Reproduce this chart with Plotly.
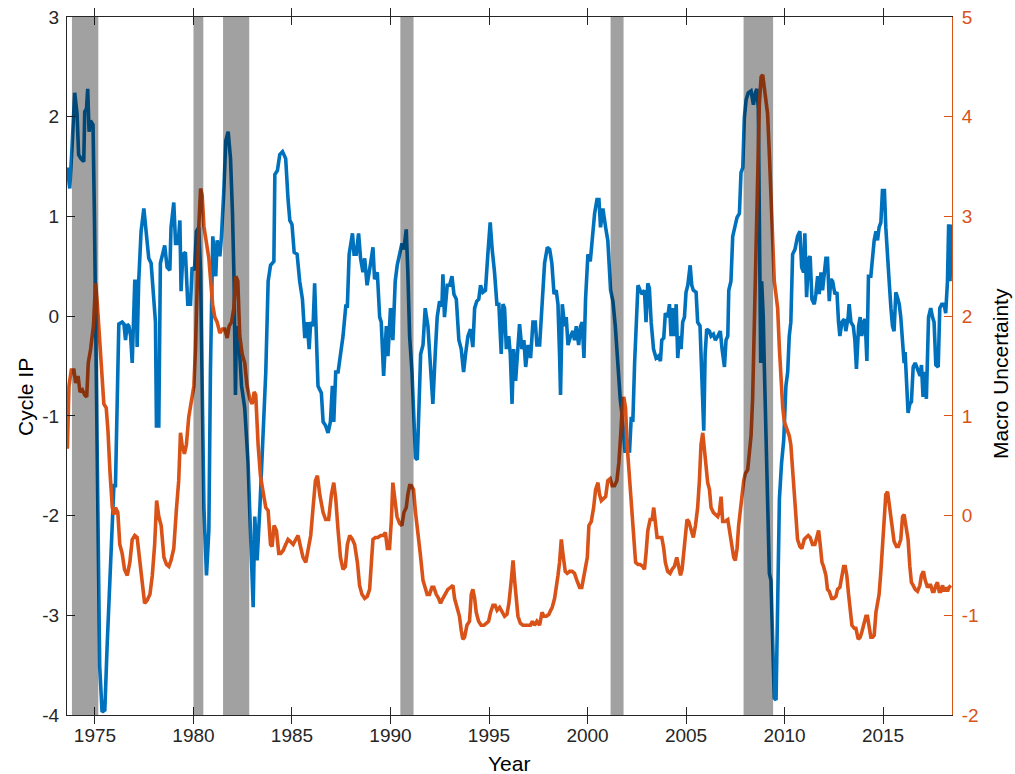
import plotly.graph_objects as go

# Cycle IP (left axis)
ip_year = [1973.60, 1973.72, 1973.84, 1973.97, 1974.09, 1974.17, 1974.29, 1974.43, 1974.48, 1974.57,
           1974.63, 1974.70, 1974.77, 1974.90, 1974.97, 1975.06, 1975.14, 1975.24, 1975.36, 1975.50,
           1975.62, 1975.79, 1975.96, 1976.04, 1976.13, 1976.21, 1976.38, 1976.47, 1976.55, 1976.64,
           1976.72, 1976.81, 1976.89, 1976.97, 1977.02, 1977.09, 1977.14, 1977.22, 1977.34, 1977.48,
           1977.60, 1977.73, 1977.85, 1977.99, 1978.07, 1978.12, 1978.24, 1978.32, 1978.44, 1978.54,
           1978.66, 1978.80, 1978.86, 1979.00, 1979.09, 1979.22, 1979.31, 1979.37, 1979.46, 1979.59,
           1979.71, 1979.85, 1979.93, 1980.05, 1980.15, 1980.27, 1980.36, 1980.44, 1980.53, 1980.66,
           1980.78, 1980.86, 1980.98, 1981.13, 1981.20, 1981.34, 1981.42, 1981.54, 1981.64, 1981.76,
           1981.88, 1981.98, 1982.06, 1982.13, 1982.18, 1982.32, 1982.44, 1982.60, 1982.77, 1982.89,
           1983.03, 1983.11, 1983.23, 1983.37, 1983.53, 1983.67, 1983.79, 1983.91, 1984.08, 1984.13,
           1984.26, 1984.38, 1984.52, 1984.68, 1984.80, 1984.89, 1985.00, 1985.11, 1985.26, 1985.39,
           1985.53, 1985.65, 1985.77, 1985.87, 1985.95, 1986.07, 1986.15, 1986.24, 1986.32, 1986.49,
           1986.58, 1986.71, 1986.83, 1986.95, 1987.05, 1987.12, 1987.22, 1987.34, 1987.46, 1987.59,
           1987.73, 1987.81, 1987.90, 1988.07, 1988.15, 1988.26, 1988.38, 1988.48, 1988.60, 1988.69,
           1988.81, 1988.89, 1988.99, 1989.11, 1989.19, 1989.33, 1989.45, 1989.53, 1989.65, 1989.79,
           1989.87, 1990.00, 1990.12, 1990.24, 1990.34, 1990.46, 1990.58, 1990.68, 1990.80, 1990.88,
           1990.97, 1991.09, 1991.19, 1991.27, 1991.36, 1991.44, 1991.53, 1991.65, 1991.76, 1991.90,
           1992.03, 1992.15, 1992.27, 1992.37, 1992.49, 1992.61, 1992.66, 1992.74, 1992.88, 1993.00,
           1993.12, 1993.22, 1993.34, 1993.47, 1993.59, 1993.71, 1993.81, 1993.93, 1994.06, 1994.18,
           1994.27, 1994.38, 1994.48, 1994.57, 1994.69, 1994.82, 1994.94, 1995.06, 1995.16, 1995.28,
           1995.40, 1995.50, 1995.62, 1995.71, 1995.79, 1995.88, 1996.00, 1996.08, 1996.17, 1996.25,
           1996.35, 1996.47, 1996.55, 1996.67, 1996.77, 1996.86, 1996.98, 1997.11, 1997.23, 1997.35,
           1997.43, 1997.57, 1997.69, 1997.82, 1997.96, 1998.08, 1998.19, 1998.30, 1998.41, 1998.50,
           1998.58, 1998.63, 1998.72, 1998.84, 1998.92, 1999.01, 1999.14, 1999.26, 1999.34, 1999.43,
           1999.55, 1999.65, 1999.73, 1999.82, 1999.90, 2000.02, 2000.14, 2000.24, 2000.36, 2000.48,
           2000.58, 2000.66, 2000.78, 2000.92, 2001.03, 2001.17, 2001.29, 2001.41, 2001.54, 2001.66,
           2001.79, 2001.91, 2002.01, 2002.13, 2002.22, 2002.30, 2002.39, 2002.47, 2002.56, 2002.67,
           2002.77, 2002.89, 2002.97, 2003.06, 2003.14, 2003.23, 2003.35, 2003.48, 2003.60, 2003.70,
           2003.77, 2003.87, 2003.95, 2004.07, 2004.16, 2004.24, 2004.33, 2004.41, 2004.50, 2004.58,
           2004.66, 2004.75, 2004.83, 2004.92, 2005.00, 2005.09, 2005.21, 2005.29, 2005.37, 2005.51,
           2005.59, 2005.71, 2005.81, 2005.90, 2005.97, 2006.05, 2006.19, 2006.27, 2006.39, 2006.49,
           2006.61, 2006.74, 2006.83, 2006.95, 2007.03, 2007.12, 2007.17, 2007.28, 2007.37, 2007.49,
           2007.59, 2007.71, 2007.79, 2007.88, 2007.96, 2008.05, 2008.16, 2008.30, 2008.42, 2008.52,
           2008.60, 2008.67, 2008.74, 2008.79, 2008.84, 2008.92, 2008.97, 2009.06, 2009.14, 2009.23,
           2009.31, 2009.40, 2009.48, 2009.57, 2009.65, 2009.74, 2009.85, 2009.96, 2010.07, 2010.16,
           2010.24, 2010.32, 2010.41, 2010.53, 2010.66, 2010.78, 2010.87, 2010.97, 2011.03, 2011.12,
           2011.22, 2011.30, 2011.39, 2011.51, 2011.59, 2011.68, 2011.76, 2011.85, 2011.93, 2012.01,
           2012.10, 2012.18, 2012.27, 2012.35, 2012.44, 2012.56, 2012.66, 2012.74, 2012.81, 2012.91,
           2013.03, 2013.11, 2013.23, 2013.28, 2013.37, 2013.49, 2013.57, 2013.65, 2013.76, 2013.84,
           2013.92, 2014.01, 2014.09, 2014.18, 2014.26, 2014.38, 2014.47, 2014.55, 2014.64, 2014.72,
           2014.80, 2014.89, 2014.97, 2015.07, 2015.14, 2015.23, 2015.31, 2015.40, 2015.48, 2015.56,
           2015.65, 2015.73, 2015.82, 2015.90, 2015.99, 2016.07, 2016.12, 2016.19, 2016.27, 2016.36,
           2016.44, 2016.53, 2016.63, 2016.71, 2016.80, 2016.88, 2016.95, 2017.03, 2017.12, 2017.20,
           2017.31, 2017.42, 2017.51, 2017.59, 2017.68, 2017.80, 2017.88, 2017.98, 2018.10, 2018.18,
           2018.27, 2018.33, 2018.40, 2018.47]
ip_value = [1.49, 1.28, 1.71, 2.24, 2.03, 1.62, 1.58, 1.55, 2.05, 2.08,
            2.28, 1.85, 1.96, 1.92, 1.03, -0.56, -2.15, -3.51, -3.97, -3.95,
            -3.29, -2.38, -1.70, -1.70, -0.79, -0.08, -0.06, -0.08, -0.24, -0.08,
            -0.10, -0.20, -0.47, -0.01, 0.35, 0.35, -0.31, 0.35, 0.85, 1.08,
            0.80, 0.58, 0.53, 0.17, -0.06, -1.10, -1.10, 0.53, 0.62, 0.71,
            0.49, 0.46, 0.89, 1.14, 0.73, 0.73, 0.96, 0.25, 0.62, 0.64,
            0.12, 0.12, 0.49, 0.46, 0.85, 0.89, 0.44, -0.56, -1.92, -2.60,
            -2.15, -0.56, 0.80, 0.40, 0.76, 0.60, 0.80, 1.26, 1.76, 1.85,
            1.58, 1.03, 0.35, -0.79, -0.10, -0.29, -0.70, -0.92, -1.47, -2.15,
            -2.92, -2.01, -2.45, -1.92, -1.29, -0.56, 0.35, 0.51, 0.55, 1.42,
            1.46, 1.62, 1.65, 1.58, 1.17, 0.96, 0.92, 0.64, 0.62, 0.35,
            0.17, -0.22, -0.06, -0.33, -0.06, -0.10, 0.33, -0.10, -0.70, -0.77,
            -1.06, -1.10, -1.17, -1.06, -0.70, -1.06, -0.56, -0.56, -0.38, -0.20,
            0.10, 0.10, 0.62, 0.83, 0.62, 0.62, 0.83, 0.58, 0.44, 0.58,
            0.31, 0.44, 0.53, 0.69, 0.37, 0.44, -0.01, -0.06, -0.60, -0.10,
            -0.40, 0.08, -0.24, 0.35, 0.51, 0.62, 0.73, 0.67, 0.87, 0.44,
            -0.20, -0.56, -1.01, -1.42, -1.44, -1.01, -0.38, -0.29, 0.08, -0.10,
            -0.47, -0.88, -0.38, -0.01, 0.15, 0.10, 0.42, -0.01, 0.31, 0.31,
            0.40, 0.22, 0.17, -0.24, -0.33, -0.56, -0.38, -0.20, -0.13, -0.31,
            0.08, 0.15, 0.17, 0.31, 0.24, 0.26, 0.62, 0.94, 0.67, 0.44,
            0.12, 0.12, -0.38, 0.12, 0.08, -0.33, -0.20, -0.38, -0.88, -0.33,
            -0.65, -0.29, -0.08, -0.33, -0.24, -0.51, -0.29, -0.42, -0.06, -0.06,
            -0.29, -0.29, 0.17, 0.53, 0.69, 0.67, 0.53, 0.22, 0.26, 0.12,
            -0.38, -0.79, 0.12, -0.10, -0.01, -0.29, -0.20, -0.15, -0.24, -0.10,
            -0.29, -0.10, -0.06, -0.42, 0.17, 0.62, 0.55, 0.76, 1.03, 1.17,
            1.17, 0.89, 1.08, 0.89, 0.76, 0.26, 0.15, -0.10, -0.47, -0.83,
            -1.06, -1.37, -1.24, -1.37, -1.01, -1.06, -0.47, -0.01, 0.31, 0.26,
            0.22, 0.26, -0.06, 0.33, 0.28, -0.06, -0.33, -0.42, -0.40, -0.45,
            -0.24, -0.22, 0.03, -0.01, 0.12, -0.20, 0.08, -0.20, 0.12, -0.42,
            -0.20, -0.33, -0.06, -0.01, 0.24, 0.31, 0.51, 0.31, 0.26, 0.24,
            -0.06, -0.10, -0.56, -1.15, -0.38, -0.13, -0.15, -0.20, -0.18, -0.24,
            -0.20, -0.15, -0.33, -0.51, -0.24, -0.20, 0.26, 0.35, 0.80, 0.89,
            0.99, 1.03, 1.44, 1.49, 1.99, 2.17, 2.24, 2.26, 2.12, 2.24,
            2.28, 2.08, 0.80, -0.47, 0.35, -0.01, -0.47, -1.15, -1.92, -2.58,
            -2.65, -3.29, -3.83, -3.85, -2.83, -1.83, -1.47, -1.24, -0.70, -0.56,
            -0.20, -0.06, 0.62, 0.67, 0.80, 0.85, 0.49, 0.44, 0.83, 0.19,
            0.58, 0.60, 0.17, 0.12, 0.22, 0.40, 0.22, 0.44, 0.26, 0.44,
            0.58, 0.58, 0.15, 0.37, 0.35, 0.22, 0.24, -0.06, -0.20, -0.06,
            -0.03, -0.15, -0.01, 0.12, -0.06, -0.10, -0.24, -0.53, -0.10, -0.01,
            -0.20, -0.06, -0.03, -0.45, 0.40, 0.40, 0.64, 0.76, 0.85, 0.76,
            0.89, 0.94, 1.26, 1.26, 0.89, 0.53, 0.35, 0.08, -0.10, -0.15,
            0.24, 0.19, 0.12, -0.01, -0.33, -0.47, -0.36, -0.70, -0.97, -0.88,
            -0.86, -0.51, -0.47, -0.51, -0.56, -0.60, -0.49, -0.81, -0.56, -0.83,
            -0.01, 0.08, -0.01, -0.06, -0.49, -0.51, 0.08, 0.12, 0.12, 0.03,
            0.35, 0.92, 0.35, 0.92]

# Macro Uncertainty (right axis)
mu_year = [1973.60, 1973.68, 1973.80, 1973.93, 1974.02, 1974.14, 1974.24, 1974.36, 1974.48, 1974.58,
           1974.66, 1974.78, 1974.92, 1975.03, 1975.12, 1975.24, 1975.36, 1975.45, 1975.57, 1975.66,
           1975.76, 1975.88, 1975.96, 1976.04, 1976.16, 1976.26, 1976.38, 1976.50, 1976.64, 1976.77,
           1976.89, 1977.02, 1977.14, 1977.28, 1977.40, 1977.52, 1977.65, 1977.79, 1977.91, 1978.03,
           1978.13, 1978.24, 1978.36, 1978.50, 1978.63, 1978.75, 1978.86, 1979.00, 1979.14, 1979.25,
           1979.34, 1979.42, 1979.54, 1979.64, 1979.76, 1979.88, 1980.02, 1980.10, 1980.19, 1980.27,
           1980.36, 1980.44, 1980.53, 1980.66, 1980.78, 1980.97, 1981.08, 1981.20, 1981.34, 1981.47,
           1981.59, 1981.71, 1981.81, 1981.93, 1982.05, 1982.15, 1982.25, 1982.35, 1982.47, 1982.60,
           1982.72, 1982.86, 1982.98, 1983.08, 1983.16, 1983.28, 1983.40, 1983.53, 1983.67, 1983.79,
           1983.91, 1983.99, 1984.09, 1984.21, 1984.33, 1984.43, 1984.55, 1984.68, 1984.80, 1984.92,
           1985.06, 1985.19, 1985.31, 1985.43, 1985.56, 1985.70, 1985.82, 1985.95, 1986.07, 1986.19,
           1986.29, 1986.41, 1986.58, 1986.71, 1986.86, 1987.00, 1987.12, 1987.22, 1987.34, 1987.46,
           1987.59, 1987.71, 1987.81, 1987.93, 1988.07, 1988.18, 1988.32, 1988.43, 1988.55, 1988.69,
           1988.82, 1988.94, 1989.03, 1989.11, 1989.23, 1989.36, 1989.50, 1989.62, 1989.74, 1989.84,
           1989.95, 1990.04, 1990.12, 1990.21, 1990.33, 1990.46, 1990.58, 1990.68, 1990.80, 1990.88,
           1990.97, 1991.05, 1991.17, 1991.27, 1991.39, 1991.51, 1991.65, 1991.76, 1991.86, 1991.98,
           1992.10, 1992.20, 1992.32, 1992.44, 1992.54, 1992.66, 1992.78, 1992.91, 1993.05, 1993.17,
           1993.25, 1993.39, 1993.50, 1993.59, 1993.67, 1993.76, 1993.88, 1994.01, 1994.10, 1994.18,
           1994.27, 1994.35, 1994.47, 1994.60, 1994.74, 1994.86, 1994.98, 1995.08, 1995.20, 1995.31,
           1995.41, 1995.54, 1995.68, 1995.79, 1995.91, 1996.01, 1996.13, 1996.22, 1996.30, 1996.39,
           1996.47, 1996.59, 1996.72, 1996.86, 1996.98, 1997.10, 1997.20, 1997.31, 1997.43, 1997.57,
           1997.69, 1997.79, 1997.91, 1998.04, 1998.13, 1998.21, 1998.33, 1998.41, 1998.50, 1998.58,
           1998.67, 1998.75, 1998.87, 1998.97, 1999.09, 1999.22, 1999.34, 1999.46, 1999.60, 1999.71,
           1999.82, 1999.90, 1999.99, 2000.07, 2000.19, 2000.31, 2000.41, 2000.53, 2000.61, 2000.70,
           2000.81, 2000.92, 2001.03, 2001.15, 2001.25, 2001.37, 2001.49, 2001.59, 2001.68, 2001.76,
           2001.84, 2001.93, 2002.01, 2002.13, 2002.25, 2002.35, 2002.44, 2002.56, 2002.67, 2002.81,
           2002.89, 2002.97, 2003.06, 2003.18, 2003.28, 2003.36, 2003.45, 2003.53, 2003.65, 2003.77,
           2003.87, 2003.95, 2004.07, 2004.19, 2004.29, 2004.41, 2004.53, 2004.61, 2004.72, 2004.80,
           2004.88, 2004.97, 2005.05, 2005.14, 2005.26, 2005.37, 2005.48, 2005.59, 2005.68, 2005.76,
           2005.85, 2005.93, 2006.02, 2006.10, 2006.19, 2006.27, 2006.39, 2006.49, 2006.61, 2006.69,
           2006.78, 2006.86, 2006.98, 2007.12, 2007.22, 2007.32, 2007.42, 2007.50, 2007.59, 2007.67,
           2007.76, 2007.84, 2007.93, 2008.01, 2008.13, 2008.21, 2008.30, 2008.38, 2008.47, 2008.55,
           2008.64, 2008.72, 2008.81, 2008.89, 2008.98, 2009.06, 2009.14, 2009.23, 2009.31, 2009.40,
           2009.48, 2009.57, 2009.65, 2009.74, 2009.82, 2009.91, 2009.99, 2010.07, 2010.16, 2010.24,
           2010.32, 2010.41, 2010.49, 2010.58, 2010.66, 2010.78, 2010.88, 2011.00, 2011.09, 2011.20,
           2011.30, 2011.42, 2011.54, 2011.64, 2011.73, 2011.81, 2011.90, 2011.98, 2012.10, 2012.18,
           2012.27, 2012.39, 2012.49, 2012.61, 2012.69, 2012.81, 2012.91, 2013.00, 2013.08, 2013.16,
           2013.25, 2013.33, 2013.42, 2013.54, 2013.62, 2013.74, 2013.84, 2013.92, 2014.01, 2014.13,
           2014.21, 2014.30, 2014.38, 2014.47, 2014.55, 2014.64, 2014.72, 2014.80, 2014.89, 2014.97,
           2015.06, 2015.14, 2015.23, 2015.31, 2015.40, 2015.48, 2015.56, 2015.68, 2015.78, 2015.90,
           2015.99, 2016.07, 2016.16, 2016.27, 2016.36, 2016.44, 2016.53, 2016.63, 2016.75, 2016.87,
           2016.95, 2017.05, 2017.14, 2017.26, 2017.34, 2017.42, 2017.51, 2017.59, 2017.68, 2017.76,
           2017.85, 2017.93, 2018.02, 2018.10, 2018.18, 2018.27, 2018.35, 2018.44]
mu_value = [0.67, 1.30, 1.46, 1.46, 1.33, 1.40, 1.24, 1.26, 1.21, 1.19,
            1.53, 1.67, 1.90, 2.33, 2.12, 1.76, 1.40, 1.12, 1.08, 0.85,
            0.44, 0.08, 0.01, 0.08, 0.03, -0.29, -0.38, -0.54, -0.60, -0.47,
            -0.24, -0.20, -0.22, -0.47, -0.74, -0.88, -0.85, -0.79, -0.60, -0.29,
            0.15, -0.01, -0.10, -0.42, -0.49, -0.51, -0.45, -0.33, 0.08, 0.35,
            0.83, 0.71, 0.62, 0.71, 0.99, 1.12, 1.30, 1.67, 2.35, 2.90,
            3.28, 3.21, 2.90, 2.71, 2.58, 2.12, 1.99, 1.94, 1.83, 1.87,
            1.87, 1.78, 1.90, 1.94, 2.08, 2.40, 2.35, 1.80, 1.62, 1.53,
            1.30, 1.17, 1.12, 1.24, 1.21, 0.71, 0.40, 0.24, 0.08, 0.05,
            -0.29, -0.31, -0.10, -0.15, -0.38, -0.38, -0.35, -0.29, -0.24, -0.26,
            -0.29, -0.24, -0.20, -0.31, -0.42, -0.47, -0.35, -0.20, 0.08, 0.35,
            0.40, 0.21, 0.03, -0.04, -0.04, 0.21, 0.33, 0.17, -0.15, -0.42,
            -0.54, -0.51, -0.29, -0.20, -0.24, -0.29, -0.47, -0.70, -0.79, -0.83,
            -0.81, -0.74, -0.47, -0.24, -0.22, -0.22, -0.20, -0.20, -0.17, -0.33,
            -0.33, -0.06, 0.33, 0.21, -0.01, -0.08, -0.10, 0.03, 0.08, 0.21,
            0.30, 0.30, 0.26, 0.03, -0.15, -0.38, -0.65, -0.72, -0.79, -0.79,
            -0.72, -0.72, -0.79, -0.83, -0.88, -0.83, -0.79, -0.74, -0.72, -0.70,
            -0.83, -0.92, -1.01, -1.15, -1.24, -1.22, -1.10, -1.06, -0.79, -0.74,
            -0.83, -0.97, -1.06, -1.10, -1.10, -1.08, -1.06, -0.97, -0.90, -0.90,
            -0.95, -0.92, -0.97, -1.01, -0.99, -0.88, -0.65, -0.45, -0.65, -0.88,
            -1.01, -1.08, -1.10, -1.10, -1.10, -1.10, -1.06, -1.10, -1.06, -1.10,
            -0.97, -1.01, -1.01, -0.99, -0.95, -0.92, -0.83, -0.74, -0.60, -0.47,
            -0.24, -0.38, -0.56, -0.58, -0.56, -0.56, -0.58, -0.65, -0.72, -0.72,
            -0.60, -0.51, -0.42, -0.10, -0.06, 0.08, 0.26, 0.33, 0.21, 0.15,
            0.17, 0.19, 0.35, 0.37, 0.30, 0.30, 0.35, 0.53, 0.80, 1.08,
            1.19, 1.08, 0.71, 0.35, 0.08, -0.20, -0.47, -0.49, -0.49, -0.51,
            -0.54, -0.38, -0.15, -0.04, -0.04, 0.08, -0.10, -0.22, -0.22, -0.22,
            -0.33, -0.47, -0.56, -0.58, -0.54, -0.51, -0.42, -0.51, -0.60, -0.54,
            -0.38, -0.20, -0.04, -0.06, -0.15, -0.22, -0.10, 0.08, 0.35, 0.71,
            0.83, 0.67, 0.40, 0.33, 0.26, 0.08, 0.03, 0.01, -0.01, 0.03,
            0.19, -0.06, -0.06, -0.04, -0.15, -0.29, -0.42, -0.45, -0.33, -0.10,
            0.08, 0.17, 0.35, 0.42, 0.46, 0.62, 0.80, 1.17, 1.90, 2.80,
            3.62, 4.12, 4.40, 4.42, 4.28, 4.12, 4.03, 3.62, 3.17, 2.71,
            2.35, 2.21, 2.08, 1.67, 1.30, 1.08, 0.94, 0.90, 0.85, 0.80,
            0.71, 0.49, 0.26, -0.01, -0.24, -0.31, -0.33, -0.24, -0.22, -0.20,
            -0.22, -0.29, -0.29, -0.20, -0.15, -0.29, -0.47, -0.51, -0.60, -0.74,
            -0.76, -0.83, -0.83, -0.81, -0.74, -0.72, -0.63, -0.51, -0.51, -0.60,
            -0.79, -0.92, -1.10, -1.13, -1.13, -1.24, -1.22, -1.17, -1.10, -1.01,
            -1.01, -1.15, -1.22, -1.22, -1.20, -0.97, -0.88, -0.79, -0.56, -0.29,
            0.03, 0.21, 0.24, 0.12, -0.01, -0.20, -0.26, -0.31, -0.31, -0.24,
            -0.01, 0.01, -0.10, -0.24, -0.51, -0.67, -0.70, -0.74, -0.76, -0.70,
            -0.60, -0.56, -0.65, -0.72, -0.70, -0.70, -0.76, -0.76, -0.70, -0.67,
            -0.76, -0.76, -0.70, -0.76, -0.72, -0.76, -0.72, -0.70]

# NBER recessions
rec_start = [1973.83, 1980.00, 1981.50, 1990.50, 2001.17, 2007.92]
rec_end = [1975.17, 1980.50, 1982.83, 1991.17, 2001.83, 2009.42]

x_ticks = [1975, 1980, 1985, 1990, 1995, 2000, 2005, 2010, 2015]
y1_ticks = [-4, -3, -2, -1, 0, 1, 2, 3]
y1_labels = ["-4", "-3", "-2", "-1", "0", "1", "2", "3"]
y2_ticks = [-2, -1, 0, 1, 2, 3, 4, 5]
y2_labels = ["-2", "-1", "0", "1", "2", "3", "4", "5"]

BLUE = "#0072BD"
ORANGE = "#D95319"
AXC = "#262626"
FONT = "Liberation Sans"

W, H = 1015, 774
PL, PT, PR, PB = 67, 17, 952, 715           # plot box in page pixels
PW, PH = PR - PL, PB - PT


def px_x(px):
    return (px - PL) / PW


def px_y(py):
    return (PB - py) / PH


fig = go.Figure()
fig.add_trace(go.Scatter(x=ip_year, y=ip_value, mode="lines", yaxis="y",
                         line=dict(color=BLUE, width=3.6), hoverinfo="skip"))
fig.add_trace(go.Scatter(x=mu_year, y=mu_value, mode="lines", yaxis="y2",
                         line=dict(color=ORANGE, width=3.6), hoverinfo="skip"))

for s, e in zip(rec_start, rec_end):
    fig.add_shape(type="rect", xref="x", yref="paper", x0=s, x1=e, y0=0, y1=1,
                  fillcolor="black", opacity=0.37, line_width=0, layer="above")

title_font = dict(family=FONT, size=21, color="black")
fig.add_annotation(text="Year", xref="paper", yref="paper", x=px_x(509), y=px_y(763),
                   xanchor="center", yanchor="middle", showarrow=False, font=title_font)
fig.add_annotation(text="Cycle IP", xref="paper", yref="paper", x=px_x(25), y=px_y(397),
                   xanchor="center", yanchor="middle", showarrow=False, textangle=-90,
                   font=title_font)
fig.add_annotation(text="Macro Uncertainty", xref="paper", yref="paper", x=px_x(1000),
                   y=px_y(374), xanchor="center", yanchor="middle", showarrow=False,
                   textangle=-90, font=title_font)

fig.update_layout(
    width=W, height=H,
    margin=dict(l=PL, r=W - PR, t=PT, b=H - PB),
    plot_bgcolor="white", paper_bgcolor="white",
    showlegend=False,
    hovermode=False,
    font=dict(family=FONT, size=19, color=AXC),
    xaxis=dict(range=[1973.58, 2018.5], tickvals=x_ticks, ticks="inside", ticklen=8,
               tickcolor=AXC, showline=True, linecolor=AXC, linewidth=1, mirror="allticks",
               showgrid=False, zeroline=False, tickfont=dict(size=19, color=AXC),
               ticklabelstandoff=3, automargin=False, ticklabeloverflow="allow"),
    yaxis=dict(range=[-4, 3], tickvals=y1_ticks, ticktext=y1_labels, ticks="inside",
               ticklen=8, tickcolor=AXC, showline=True, linecolor=AXC, linewidth=1,
               showgrid=False, zeroline=False, tickfont=dict(size=19, color=AXC),
               ticklabelstandoff=3, automargin=False, ticklabeloverflow="allow"),
    yaxis2=dict(range=[-2, 5], tickvals=y2_ticks, ticktext=y2_labels, overlaying="y",
                side="right", ticks="inside", ticklen=8, tickcolor=ORANGE, showline=True,
                linecolor=ORANGE, linewidth=1, showgrid=False, zeroline=False,
                tickfont=dict(size=19, color=ORANGE), ticklabelstandoff=5,
                automargin=False, ticklabeloverflow="allow"),
)

# remove the default 8px page margin so the figure fills the window exactly
fig.write_html("out.html", config={"displayModeBar": False},
               post_script="document.body.style.margin='0';")
